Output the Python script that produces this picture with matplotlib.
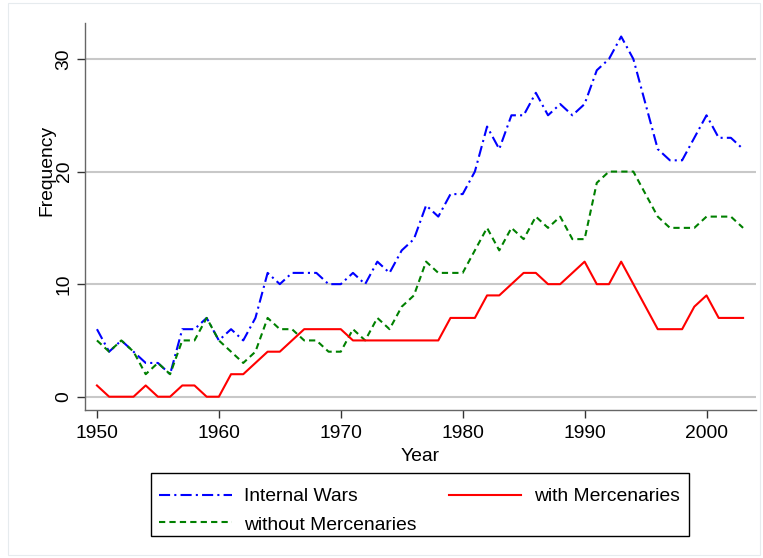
import matplotlib
matplotlib.use("Agg")
import matplotlib.pyplot as plt
from matplotlib.patches import Rectangle
from matplotlib.lines import Line2D

plt.rcParams['font.family'] = ['Liberation Sans', 'DejaVu Sans']
plt.rcParams['lines.scale_dashes'] = False

years = list(range(1950, 2004))
internal_wars = [6, 4, 5, 4, 3, 3, 2, 6, 6, 7,
                 5, 6, 5, 7, 11, 10, 11, 11, 11, 10,
                 10, 11, 10, 12, 11, 13, 14, 17, 16, 18,
                 18, 20, 24, 22, 25, 25, 27, 25, 26, 25,
                 26, 29, 30, 32, 30, 26, 22, 21, 21, 23,
                 25, 23, 23, 22]
without_merc = [5, 4, 5, 4, 2, 3, 2, 5, 5, 7,
                5, 4, 3, 4, 7, 6, 6, 5, 5, 4,
                4, 6, 5, 7, 6, 8, 9, 12, 11, 11,
                11, 13, 15, 13, 15, 14, 16, 15, 16, 14,
                14, 19, 20, 20, 20, 18, 16, 15, 15, 15,
                16, 16, 16, 15]
with_merc = [1, 0, 0, 0, 1, 0, 0, 1, 1, 0,
             0, 2, 2, 3, 4, 4, 5, 6, 6, 6,
             6, 5, 5, 5, 5, 5, 5, 5, 5, 7,
             7, 7, 9, 9, 10, 11, 11, 10, 10, 11,
             12, 10, 10, 12, 10, 8, 6, 6, 6, 8,
             9, 7, 7, 7]
xticks = [1950, 1960, 1970, 1980, 1990, 2000]
yticks = [0, 10, 20, 30]
labels = ['Internal Wars', 'with Mercenaries', 'without Mercenaries']

W, H = 763, 558
fig = plt.figure(figsize=(W / 100, H / 100), dpi=100)
fig.patch.set_facecolor('white')


def fx(px):
    return px / W


def fy(py):
    return 1 - py / H


fig.patches.append(Rectangle((fx(8), fy(555)), 752 / W, 552 / H, transform=fig.transFigure,
                             fill=False, edgecolor='#e6ebee', linewidth=0.8))

ax = fig.add_axes([fx(85), fy(410), (756 - 85) / W, (410 - 23) / H])
fs = 13.9

styles = [dict(color='#0000ff', lw=1.5, dashes=(8, 3, 1.5, 3)),
          dict(color='#ff0000', lw=1.5, linestyle='-'),
          dict(color='#008000', lw=1.5, dashes=(4.5, 3))]

ax.plot(years, internal_wars, **styles[0])
ax.plot(years, without_merc, **styles[2])
ax.plot(years, with_merc, **styles[1])

ax.set_xlim(1949.02, 2004.06)
ax.set_ylim(-1.18, 33.2)
ax.set_xticks(xticks)
ax.set_yticks(yticks)
ax.yaxis.grid(True, color='#c8c8c8', lw=1.5)
ax.set_axisbelow(True)
for s in ['top', 'right']:
    ax.spines[s].set_visible(False)
for s in ['left', 'bottom']:
    ax.spines[s].set_color('#666666')
    ax.spines[s].set_linewidth(1.0)
ax.tick_params(axis='both', labelsize=fs, length=6, width=1, color='#333333', pad=3)
ax.tick_params(axis='x', pad=5)
for lab in ax.get_yticklabels():
    lab.set_rotation(90)
    lab.set_va('center')
ax.set_xlabel('Year', fontsize=fs, labelpad=4)
ax.set_ylabel('Frequency', fontsize=fs, labelpad=0)
ax.yaxis.set_label_coords(-0.0447, (410 - 170) / (410 - 23))

# legend box (manual layout)
fig.patches.append(Rectangle((fx(151), fy(536)), (689 - 151) / W, (536 - 473) / H,
                             transform=fig.transFigure, fill=True, facecolor='white',
                             edgecolor='black', linewidth=1.0))
entries = [(159, 232, 494.5, 244, 501, 0),
           (449, 521, 494.5, 534, 501, 1),
           (159, 232, 522.4, 244, 529.5, 2)]
for x0, x1, ly, tx, ty, i in entries:
    fig.add_artist(Line2D([fx(x0), fx(x1)], [fy(ly), fy(ly)], transform=fig.transFigure,
                          **styles[i]))
    fig.text(fx(tx), fy(ty), labels[i], fontsize=fs, ha='left', va='baseline')

fig.savefig('out.png', dpi=100)
